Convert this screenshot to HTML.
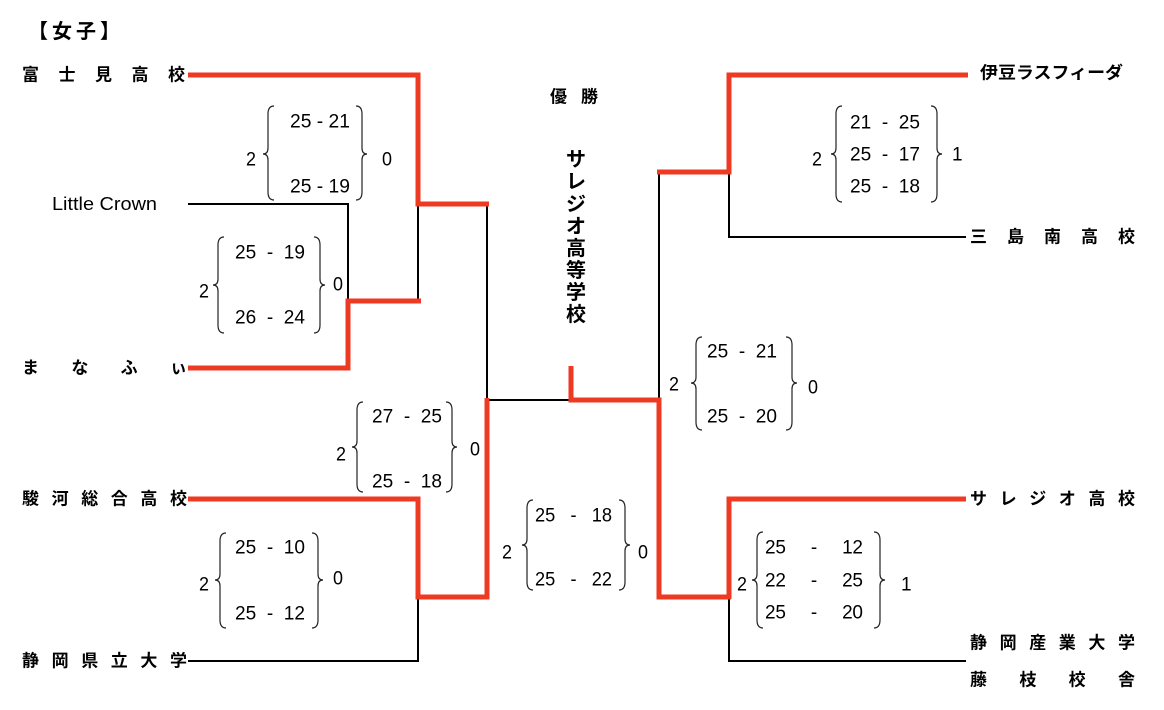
<!DOCTYPE html>
<html><head><meta charset="utf-8"><style>
html,body{margin:0;padding:0;background:#fff;}
svg{display:block;}
.n{font-family:"Liberation Sans","Noto Sans CJK JP",sans-serif;font-weight:bold;font-size:17px;fill:#000;}
.s{font-family:"Liberation Sans Narrow","Liberation Sans",sans-serif;font-size:19px;fill:#000;}
.r{stroke:#ee3a22;stroke-width:5;fill:none;}
.b{stroke:#000;stroke-width:2;fill:none;}
.br{stroke:#222;stroke-width:1.2;fill:none;}
</style></head><body>
<svg width="1164" height="710" viewBox="0 0 1164 710" xmlns="http://www.w3.org/2000/svg" dominant-baseline="central">
<polyline class="b" points="188,204 348,204 348,301"/>
<polyline class="b" points="418,204 418,301"/>
<polyline class="b" points="487,204 487,400 571,400"/>
<polyline class="b" points="188,661 418,661 418,597"/>
<polyline class="b" points="659,172 659,400"/>
<polyline class="b" points="729,172 729,237 966,237"/>
<polyline class="b" points="729,597 729,661 966,661"/>
<polyline class="r" points="188,75 418,75 418,204 489,204"/>
<polyline class="r" points="188,368 348,368 348,301 421,301"/>
<polyline class="r" points="188,499 418,499 418,597 487,597 487,398"/>
<polyline class="r" points="571,366 571,400 659,400 659,597 731,597"/>
<polyline class="r" points="968,75 729,75 729,172 657,172"/>
<polyline class="r" points="966,499 729,499 729,599"/>
<text class="n" x="28" y="32" style="font-size:20px" textLength="92" lengthAdjust="spacing">【女子】</text>
<text class="n" x="550" y="97" style="font-size:17px" textLength="48" lengthAdjust="spacing">優　勝</text>
<g class="n" style="font-size:20px" text-anchor="middle">
<text x="576" y="160">サ</text><text x="576" y="182">レ</text><text x="576" y="205">ジ</text><text x="576" y="227">オ</text>
<text x="576" y="249">高</text><text x="576" y="271">等</text><text x="576" y="293">学</text><text x="576" y="315">校</text>
</g>
<text class="n" x="22" y="75" textLength="163" lengthAdjust="spacing">富士見高校</text>
<text class="n" x="52" y="204" style="font-weight:normal;font-size:18px" textLength="105" lengthAdjust="spacingAndGlyphs">Little Crown</text>
<text class="n" x="22" y="368" textLength="165" lengthAdjust="spacing">まなふぃ</text>
<text class="n" x="22" y="499" textLength="165" lengthAdjust="spacing">駿河総合高校</text>
<text class="n" x="22" y="661" textLength="165" lengthAdjust="spacing">静岡県立大学</text>
<text class="n" x="980" y="73" textLength="143" lengthAdjust="spacingAndGlyphs">伊豆ラスフィーダ</text>
<text class="n" x="970" y="237" textLength="165" lengthAdjust="spacing">三島南高校</text>
<text class="n" x="970" y="499" textLength="165" lengthAdjust="spacing">サレジオ高校</text>
<text class="n" x="970" y="643" textLength="165" lengthAdjust="spacing">静岡産業大学</text>
<text class="n" x="970" y="680" textLength="165" lengthAdjust="spacing">藤枝校舎</text>
<g class="br">
<path d="M274,106 Q268,106 268,114 L268,148 Q268,154 263,154 Q268,154 268,160 L268,192 Q268,200 274,200"/>
<path d="M356,106 Q362,106 362,114 L362,148 Q362,154 367,154 Q362,154 362,160 L362,192 Q362,200 356,200"/>
<path d="M224,237 Q218,237 218,245 L218,279 Q218,285 213,285 Q218,285 218,291 L218,325 Q218,333 224,333"/>
<path d="M314,237 Q320,237 320,245 L320,279 Q320,285 325,285 Q320,285 320,291 L320,325 Q320,333 314,333"/>
<path d="M363,402 Q357,402 357,410 L357,441 Q357,447 352,447 Q357,447 357,453 L357,484 Q357,492 363,492"/>
<path d="M446,402 Q452,402 452,410 L452,441 Q452,447 457,447 Q452,447 452,453 L452,484 Q452,492 446,492"/>
<path d="M226,533 Q220,533 220,541 L220,574 Q220,580 215,580 Q220,580 220,586 L220,620 Q220,628 226,628"/>
<path d="M312,533 Q318,533 318,541 L318,574 Q318,580 323,580 Q318,580 318,586 L318,620 Q318,628 312,628"/>
<path d="M533,500 Q527,500 527,508 L527,539 Q527,545 522,545 Q527,545 527,551 L527,582 Q527,590 533,590"/>
<path d="M619,500 Q625,500 625,508 L625,539 Q625,545 630,545 Q625,545 625,551 L625,582 Q625,590 619,590"/>
<path d="M842,106 Q836,106 836,114 L836,148 Q836,154 831,154 Q836,154 836,160 L836,194 Q836,202 842,202"/>
<path d="M931,106 Q937,106 937,114 L937,148 Q937,154 942,154 Q937,154 937,160 L937,194 Q937,202 931,202"/>
<path d="M702,337 Q696,337 696,345 L696,377 Q696,383 691,383 Q696,383 696,389 L696,422 Q696,430 702,430"/>
<path d="M786,337 Q792,337 792,345 L792,377 Q792,383 797,383 Q792,383 792,389 L792,422 Q792,430 786,430"/>
<path d="M763,532 Q757,532 757,540 L757,574 Q757,580 752,580 Q757,580 757,586 L757,620 Q757,628 763,628"/>
<path d="M874,532 Q880,532 880,540 L880,574 Q880,580 885,580 Q880,580 880,586 L880,620 Q880,628 874,628"/>
</g>
<g class="s">
<text x="246" y="160" textLength="10" lengthAdjust="spacingAndGlyphs">2</text><text x="382" y="160" textLength="10" lengthAdjust="spacingAndGlyphs">0</text>
<text x="290" y="122" xml:space="preserve" textLength="60" lengthAdjust="spacingAndGlyphs">25 - 21</text><text x="290" y="187" xml:space="preserve" textLength="60" lengthAdjust="spacingAndGlyphs">25 - 19</text>
<text x="199" y="292" textLength="10" lengthAdjust="spacingAndGlyphs">2</text><text x="333" y="285" textLength="10" lengthAdjust="spacingAndGlyphs">0</text>
<text x="235" y="253" xml:space="preserve" textLength="70" lengthAdjust="spacingAndGlyphs">25  -  19</text><text x="235" y="318" xml:space="preserve" textLength="70" lengthAdjust="spacingAndGlyphs">26  -  24</text>
<text x="336" y="455" textLength="10" lengthAdjust="spacingAndGlyphs">2</text><text x="470" y="450" textLength="10" lengthAdjust="spacingAndGlyphs">0</text>
<text x="372" y="417" xml:space="preserve" textLength="70" lengthAdjust="spacingAndGlyphs">27  -  25</text><text x="372" y="482" xml:space="preserve" textLength="70" lengthAdjust="spacingAndGlyphs">25  -  18</text>
<text x="199" y="585" textLength="10" lengthAdjust="spacingAndGlyphs">2</text><text x="333" y="579" textLength="10" lengthAdjust="spacingAndGlyphs">0</text>
<text x="235" y="548" xml:space="preserve" textLength="70" lengthAdjust="spacingAndGlyphs">25  -  10</text><text x="235" y="614" xml:space="preserve" textLength="70" lengthAdjust="spacingAndGlyphs">25  -  12</text>
<text x="502" y="553" textLength="10" lengthAdjust="spacingAndGlyphs">2</text><text x="638" y="553" textLength="10" lengthAdjust="spacingAndGlyphs">0</text>
<text x="535" y="516" xml:space="preserve" textLength="77" lengthAdjust="spacingAndGlyphs">25   -   18</text><text x="535" y="580" xml:space="preserve" textLength="77" lengthAdjust="spacingAndGlyphs">25   -   22</text>
<text x="812" y="160" textLength="10" lengthAdjust="spacingAndGlyphs">2</text><text x="952" y="155">1</text>
<text x="850" y="123" xml:space="preserve" textLength="70" lengthAdjust="spacingAndGlyphs">21  -  25</text><text x="850" y="155" xml:space="preserve" textLength="70" lengthAdjust="spacingAndGlyphs">25  -  17</text><text x="850" y="187" xml:space="preserve" textLength="70" lengthAdjust="spacingAndGlyphs">25  -  18</text>
<text x="669" y="385" textLength="10" lengthAdjust="spacingAndGlyphs">2</text><text x="808" y="388" textLength="10" lengthAdjust="spacingAndGlyphs">0</text>
<text x="707" y="352" xml:space="preserve" textLength="70" lengthAdjust="spacingAndGlyphs">25  -  21</text><text x="707" y="417" xml:space="preserve" textLength="70" lengthAdjust="spacingAndGlyphs">25  -  20</text>
<text x="737" y="585" textLength="10" lengthAdjust="spacingAndGlyphs">2</text><text x="901" y="585">1</text>
<text x="765" y="548" xml:space="preserve" textLength="98" lengthAdjust="spacing">25     -     12</text><text x="765" y="581" xml:space="preserve" textLength="98" lengthAdjust="spacing">22     -     25</text><text x="765" y="613" xml:space="preserve" textLength="98" lengthAdjust="spacing">25     -     20</text>
</g>
</svg>
</body></html>
